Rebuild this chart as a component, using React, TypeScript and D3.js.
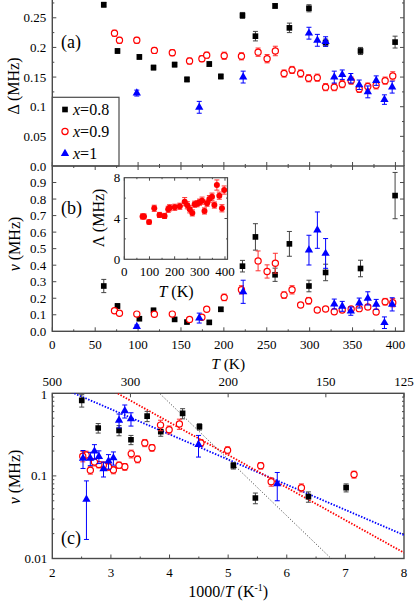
import { useMemo } from 'react';
import * as d3 from 'd3';

const WIDTH = 415;
const HEIGHT = 601;
const FONT = 'Liberation Serif, Times New Roman, DejaVu Serif, serif';

// x = 0.8 (black squares)
const tempsX08 = [60, 76, 101.5, 118, 142.6, 157, 183, 196.5, 221.7, 236.8, 259.7, 276.4, 299.2, 318.6, 359.3, 399.6];
const deltaX08 = [0.272, 0.194, 0.184, 0.166, 0.171, 0.146, 0.172, 0.151, 0.254, 0.219, 0.27, 0.233, 0.266, 0.208, 0.194, 0.209];
const deltaErrX08 = [0.004, 0.004, 0.004, 0.004, 0.004, 0.004, 0.004, 0.004, 0.005, 0.008, 0.004, 0.008, 0.006, 0.006, 0.006, 0.01];
const nuX08 = [0.274, 0.153, 0.076, 0.127, 0.072, 0.056, 0.054, 0.133, 0.394, 0.571, 0.342, 0.529, 0.274, 0.356, 0.38, 0.821];
const nuErrX08 = [0.04, 0.015, 0.01, 0.012, 0.008, 0.008, 0.008, 0.012, 0.035, 0.08, 0.04, 0.075, 0.035, 0.05, 0.05, 0.14];

// x = 0.9 (red open circles)
const tempsX09 = [72.5, 78.3, 98.5, 119, 139.9, 160, 174.4, 180, 200.4, 220.5, 239.9, 250.4, 260, 270.2, 279.5, 289.5, 298.8, 308.9, 318.6, 328.7, 338, 348.4, 357.8, 367.8, 377.5, 388, 396.9];
const deltaX09 = [0.224, 0.212, 0.212, 0.195, 0.191, 0.177, 0.181, 0.187, 0.186, 0.185, 0.192, 0.181, 0.194, 0.156, 0.162, 0.156, 0.148, 0.149, 0.133, 0.133, 0.138, 0.144, 0.13, 0.134, 0.136, 0.144, 0.152];
const deltaErrX09 = [0.005, 0.005, 0.005, 0.005, 0.005, 0.005, 0.005, 0.005, 0.006, 0.006, 0.007, 0.007, 0.008, 0.006, 0.006, 0.006, 0.006, 0.006, 0.006, 0.006, 0.006, 0.006, 0.006, 0.006, 0.006, 0.006, 0.007];
const nuX09 = [0.124, 0.109, 0.104, 0.103, 0.104, 0.072, 0.085, 0.133, 0.205, 0.251, 0.426, 0.362, 0.412, 0.219, 0.251, 0.159, 0.185, 0.129, 0.135, 0.118, 0.129, 0.135, 0.137, 0.147, 0.117, 0.179, 0.173];
const nuErrX09 = [0.01, 0.01, 0.01, 0.01, 0.01, 0.008, 0.01, 0.012, 0.02, 0.025, 0.06, 0.04, 0.06, 0.02, 0.025, 0.015, 0.02, 0.012, 0.012, 0.012, 0.012, 0.012, 0.012, 0.015, 0.012, 0.02, 0.025];
const lambdaX09 = [4.2, 4.2, 3.65, 5.0, 4.35, 4.25, 4.9, 5.05, 5.1, 5.2, 5.65, 5.3, 4.9, 4.55, 5.4, 5.45, 5.6, 5.75, 4.74, 5.5, 5.9, 6.14, 5.32, 7.28, 6.24, 5.0, 6.79];
const lambdaErrX09 = [0.25, 0.25, 0.2, 0.3, 0.25, 0.25, 0.3, 0.3, 0.3, 0.3, 0.4, 0.35, 0.35, 0.3, 0.3, 0.3, 0.3, 0.35, 0.3, 0.3, 0.35, 0.35, 0.3, 0.5, 0.35, 0.35, 0.4];

// x = 1 (blue triangles)
const tempsX1 = [98.5, 171.3, 222.5, 299.2, 309, 318.6, 328.7, 338, 348, 357.8, 367.8, 377.6, 387.2, 396.2];
const deltaX1 = [0.123, 0.099, 0.15, 0.224, 0.212, 0.21, 0.15, 0.154, 0.148, 0.137, 0.125, 0.144, 0.112, 0.133];
const deltaErrX1 = [0.005, 0.01, 0.01, 0.01, 0.01, 0.008, 0.01, 0.008, 0.008, 0.008, 0.01, 0.008, 0.008, 0.01];
const nuX1 = [0.028, 0.08, 0.239, 0.491, 0.612, 0.471, 0.165, 0.151, 0.122, 0.171, 0.199, 0.163, 0.052, 0.163];
const nuErrX1 = [0.01, 0.03, 0.07, 0.09, 0.11, 0.09, 0.03, 0.03, 0.025, 0.03, 0.04, 0.03, 0.035, 0.04];

// Arrhenius fits in panel (c): nu = nu0 * exp(-Ea / T)
const fitColors = ['#0000ff', '#ff0000', '#333333'];
const fitPrefactors = [5.28, 16.9, 413]; // MHz
const fitActivations = [702, 909, 1573]; // K

// top axis of panel (c), in K
const topTempTicks = [500, 300, 200, 150, 125];

type Shape = 'square' | 'circle' | 'triangle';

interface Series {
    label: string;
    shape: Shape;
    color: string;
    errColor: string;
    temps: number[];
    delta: number[];
    deltaErr: number[];
    nu: number[];
    nuErr: number[];
}

const series: Series[] = [
    { label: '0.8', shape: 'square', color: '#000000', errColor: '#444444', temps: tempsX08, delta: deltaX08, deltaErr: deltaErrX08, nu: nuX08, nuErr: nuErrX08 },
    { label: '0.9', shape: 'circle', color: '#ff0000', errColor: '#ff3030', temps: tempsX09, delta: deltaX09, deltaErr: deltaErrX09, nu: nuX09, nuErr: nuErrX09 },
    { label: '1', shape: 'triangle', color: '#0000ff', errColor: '#0000ff', temps: tempsX1, delta: deltaX1, deltaErr: deltaErrX1, nu: nuX1, nuErr: nuErrX1 },
];

const FRAME = '#4a4a4a';

function Marker({ shape, color, x, y }: { shape: Shape; color: string; x: number; y: number }) {
    if (shape === 'circle') {
        return <circle cx={x} cy={y} r={3.1} fill="white" stroke={color} strokeWidth={1.2} />;
    }
    const sym = shape === 'square' ? d3.symbolSquare : d3.symbolTriangle;
    const size = shape === 'square' ? 32 : 30;
    return <path d={d3.symbol(sym, size)() || ''} transform={`translate(${x},${y})`} fill={color} />;
}

interface PointsProps {
    xs: number[];
    ys: number[];
    errs: number[];
    xScale: (v: number) => number;
    yScale: (v: number) => number;
    shape: Shape;
    color: string;
    errColor: string;
    floor?: number;
    filled?: boolean;
}

function ErrorPoints({ xs, ys, errs, xScale, yScale, shape, color, errColor, floor, filled }: PointsProps) {
    return (
        <g>
            {xs.map((xv, i) => {
                const px = xScale(xv);
                const lo = floor !== undefined ? Math.max(ys[i] - errs[i], floor) : ys[i] - errs[i];
                const y0 = yScale(lo);
                const y1 = yScale(ys[i] + errs[i]);
                return (
                    <g key={i} stroke={errColor} strokeWidth={1}>
                        <line x1={px} x2={px} y1={y0} y2={y1} />
                        <line x1={px - 2.5} x2={px + 2.5} y1={y0} y2={y0} />
                        <line x1={px - 2.5} x2={px + 2.5} y1={y1} y2={y1} />
                    </g>
                );
            })}
            {xs.map((xv, i) =>
                filled ? (
                    <circle key={'m' + i} cx={xScale(xv)} cy={yScale(ys[i])} r={3} fill={color} />
                ) : (
                    <Marker key={'m' + i} shape={shape} color={color} x={xScale(xv)} y={yScale(ys[i])} />
                )
            )}
        </g>
    );
}

function XTicks({ values, scale, y, len }: { values: number[]; scale: (v: number) => number; y: number; len: number }) {
    return (
        <g stroke={FRAME} strokeWidth={1}>
            {values.map((v, i) => (
                <line key={i} x1={scale(v)} x2={scale(v)} y1={y} y2={y + len} />
            ))}
        </g>
    );
}

function YTicks({ values, scale, x, len }: { values: number[]; scale: (v: number) => number; x: number; len: number }) {
    return (
        <g stroke={FRAME} strokeWidth={1}>
            {values.map((v, i) => (
                <line key={i} x1={x} x2={x + len} y1={scale(v)} y2={scale(v)} />
            ))}
        </g>
    );
}

export default function App() {
    const scales = useMemo(() => {
        const xT = d3.scaleLinear().domain([0, 410]).range([52.3, 404]);
        const yDelta = d3.scaleLinear().domain([0, 0.28]).range([166, 0]);
        const yNu = d3.scaleLinear().domain([0, 1]).range([331.3, 166]);
        const xIn = d3.scaleLinear().domain([0, 410]).range([124.3, 227.5]);
        const yIn = d3.scaleLinear().domain([0, 8]).range([259.3, 177.7]);
        const xInv = d3.scaleLinear().domain([2, 8]).range([52.3, 404]);
        const yLog = d3.scaleLog().domain([0.01, 1]).range([558.5, 393.3]);
        return { xT, yDelta, yNu, xIn, yIn, xInv, yLog };
    }, []);
    const { xT, yDelta, yNu, xIn, yIn, xInv, yLog } = scales;

    const [l, r] = xT.range();
    const [cl, cr] = xInv.range();
    const cTop = yLog(1);
    const cBot = yLog(0.01);

    const tMajor = d3.range(0, 401, 50);
    const tMinor = d3.range(25, 410, 50);
    const logMinor = [0.02, 0.03, 0.04, 0.05, 0.06, 0.07, 0.08, 0.09, 0.2, 0.3, 0.4, 0.5, 0.6, 0.7, 0.8, 0.9];

    const fits = fitPrefactors.map((nu0, i) => {
        const ends = xInv.domain().map((x) => [x, nu0 * Math.exp((-fitActivations[i] * x) / 1000)] as [number, number]);
        const path = d3
            .line<[number, number]>()
            .x((d) => xInv(d[0]))
            .y((d) => yLog(d[1]))(ends);
        return { path, color: fitColors[i] };
    });

    const tickText = { fontFamily: FONT, fontSize: 13, fill: '#000' } as const;
    const titleText = { fontFamily: FONT, fontSize: 16, fill: '#000' } as const;

    return (
        <svg
            width={WIDTH}
            height={HEIGHT}
            viewBox={`0 0 ${WIDTH} ${HEIGHT}`}
            style={{ position: 'absolute', left: 0, top: 0, background: 'white' }}
        >
            <defs>
                <clipPath id="clip-c">
                    <rect x={cl} y={cTop} width={cr - cl} height={cBot - cTop} />
                </clipPath>
            </defs>

            {/* ---------- panel (a) ---------- */}
            <g>
                <line x1={l} x2={l} y1={0} y2={166} stroke={FRAME} strokeWidth={1.4} />
                <line x1={r} x2={r} y1={0} y2={166} stroke={FRAME} strokeWidth={1.4} />
                <YTicks values={d3.range(0.05, 0.28, 0.05)} scale={yDelta} x={l} len={4} />
                <YTicks values={d3.range(0.025, 0.28, 0.05)} scale={yDelta} x={l} len={2} />
                <YTicks values={d3.range(0.05, 0.28, 0.05)} scale={yDelta} x={r} len={-4} />
                <YTicks values={d3.range(0.025, 0.28, 0.05)} scale={yDelta} x={r} len={-2} />
                <XTicks values={tMajor} scale={xT} y={166} len={-4} />
                <XTicks values={tMinor} scale={xT} y={166} len={-2} />
                {d3.range(0, 0.26, 0.05).map((v, i) => (
                    <text key={i} x={l - 6} y={yDelta(v) + 4.5} textAnchor="end" {...tickText}>
                        {i === 0 ? '0.0' : d3.format('.2~f')(v)}
                    </text>
                ))}
                <text transform={`translate(19, 86) rotate(-90)`} textAnchor="middle" {...titleText}>
                    Δ (MHz)
                </text>
                <text x={61} y={48} {...titleText} fontSize={18}>
                    (a)
                </text>
                {series.map((s) => (
                    <ErrorPoints
                        key={s.label}
                        xs={s.temps}
                        ys={s.delta}
                        errs={s.deltaErr}
                        xScale={xT}
                        yScale={yDelta}
                        shape={s.shape}
                        color={s.color}
                        errColor={s.errColor}
                    />
                ))}
                {/* legend */}
                <rect x={l} y={97.3} width={66.7} height={166 - 97.3} fill="white" stroke={FRAME} strokeWidth={1.2} />
                {series.map((s, i) => (
                    <g key={s.label}>
                        <Marker shape={s.shape} color={s.color} x={65} y={109.5 + i * 22} />
                        <text x={73} y={115 + i * 22} {...titleText}>
                            <tspan fontStyle="italic">x</tspan>={s.label}
                        </text>
                    </g>
                ))}
            </g>

            {/* ---------- panel (b) ---------- */}
            <g>
                <rect x={l} y={166} width={r - l} height={331.3 - 166} fill="none" stroke={FRAME} strokeWidth={1.4} />
                <YTicks values={d3.range(0.1, 1, 0.1)} scale={yNu} x={l} len={4} />
                <YTicks values={d3.range(0.1, 1, 0.1)} scale={yNu} x={r} len={-4} />
                <XTicks values={tMajor} scale={xT} y={331.3} len={-4} />
                <XTicks values={tMinor} scale={xT} y={331.3} len={-2} />
                <XTicks values={tMajor} scale={xT} y={166} len={4} />
                <XTicks values={tMinor} scale={xT} y={166} len={2} />
                {d3.range(0, 0.95, 0.1).map((v, i) => (
                    <text key={i} x={l - 6} y={yNu(v) + 4.5} textAnchor="end" {...tickText}>
                        {d3.format('.1f')(v)}
                    </text>
                ))}
                {tMajor.map((v) => (
                    <text key={v} x={xT(v)} y={349} textAnchor="middle" {...tickText}>
                        {v}
                    </text>
                ))}
                <text x={xT(205)} y={369} textAnchor="middle" {...titleText} fontSize={15.5}>
                    <tspan fontStyle="italic">T</tspan> (K)
                </text>
                <text transform={`translate(20, 244) rotate(-90)`} textAnchor="middle" {...titleText}>
                    <tspan fontStyle="italic">ν</tspan> (MHz)
                </text>
                <text x={61} y={214} {...titleText} fontSize={18}>
                    (b)
                </text>
                {series.map((s) => (
                    <ErrorPoints
                        key={s.label}
                        xs={s.temps}
                        ys={s.nu}
                        errs={s.nuErr}
                        xScale={xT}
                        yScale={yNu}
                        shape={s.shape}
                        color={s.color}
                        errColor={s.errColor}
                    />
                ))}

                {/* inset */}
                <rect
                    x={xIn(0)}
                    y={yIn(8)}
                    width={xIn(410) - xIn(0)}
                    height={yIn(0) - yIn(8)}
                    fill="white"
                    stroke={FRAME}
                    strokeWidth={1.2}
                />
                <XTicks values={d3.range(0, 401, 100)} scale={xIn} y={yIn(0)} len={-3} />
                <XTicks values={d3.range(50, 401, 100)} scale={xIn} y={yIn(0)} len={-1.5} />
                <XTicks values={d3.range(0, 401, 100)} scale={xIn} y={yIn(8)} len={3} />
                <XTicks values={d3.range(50, 401, 100)} scale={xIn} y={yIn(8)} len={1.5} />
                <YTicks values={[4]} scale={yIn} x={xIn(0)} len={3} />
                <YTicks values={[2, 6]} scale={yIn} x={xIn(0)} len={1.5} />
                <YTicks values={[4]} scale={yIn} x={xIn(410)} len={-3} />
                <YTicks values={[2, 6]} scale={yIn} x={xIn(410)} len={-1.5} />
                {d3.range(0, 401, 100).map((v) => (
                    <text key={v} x={xIn(v)} y={276} textAnchor="middle" {...tickText}>
                        {v}
                    </text>
                ))}
                {[0, 4, 8].map((v) => (
                    <text key={v} x={xIn(0) - 4} y={yIn(v) + 4.5} textAnchor="end" {...tickText}>
                        {v}
                    </text>
                ))}
                <text x={176} y={297} textAnchor="middle" {...titleText}>
                    <tspan fontStyle="italic">T</tspan> (K)
                </text>
                <text transform={`translate(104, 218) rotate(-90)`} textAnchor="middle" {...titleText}>
                    Λ (MHz)
                </text>
                <ErrorPoints
                    xs={tempsX09}
                    ys={lambdaX09}
                    errs={lambdaErrX09}
                    xScale={xIn}
                    yScale={yIn}
                    shape="circle"
                    color="#ff0000"
                    errColor="#ff3030"
                    filled
                />
            </g>

            {/* ---------- panel (c) ---------- */}
            <g>
                <rect x={cl} y={cTop} width={cr - cl} height={cBot - cTop} fill="none" stroke={FRAME} strokeWidth={1.4} />
                <XTicks values={d3.range(3, 8, 1)} scale={xInv} y={cBot} len={-4} />
                <XTicks values={d3.range(2.5, 8, 1)} scale={xInv} y={cBot} len={-2} />
                <XTicks values={topTempTicks.map((t) => 1000 / t)} scale={xInv} y={cTop} len={4} />
                <YTicks values={[0.1]} scale={yLog} x={cl} len={4} />
                <YTicks values={logMinor} scale={yLog} x={cl} len={2} />
                <YTicks values={[0.1]} scale={yLog} x={cr} len={-4} />
                <YTicks values={logMinor} scale={yLog} x={cr} len={-2} />
                {d3.range(2, 9, 1).map((v) => (
                    <text key={v} x={xInv(v)} y={577} textAnchor="middle" {...tickText}>
                        {v}
                    </text>
                ))}
                {topTempTicks.map((t) => (
                    <text key={t} x={xInv(1000 / t)} y={386} textAnchor="middle" {...tickText}>
                        {t}
                    </text>
                ))}
                {[1, 0.1, 0.01].map((v, i) => (
                    <text key={v} x={cl - 5} y={yLog(v) + (i === 0 ? 6 : 4.5)} textAnchor="end" {...tickText}>
                        {v}
                    </text>
                ))}
                <text x={xInv(5)} y={597} textAnchor="middle" {...titleText}>
                    1000/<tspan fontStyle="italic">T</tspan> (K
                    <tspan fontSize={10} dy={-6}>
                        -1
                    </tspan>
                    <tspan dy={6}>)</tspan>
                </text>
                <text transform={`translate(20, 477) rotate(-90)`} textAnchor="middle" {...titleText}>
                    <tspan fontStyle="italic">ν</tspan> (MHz)
                </text>
                <text x={61} y={544} {...titleText} fontSize={18}>
                    (c)
                </text>
                <g clipPath="url(#clip-c)">
                    {fits.map((f, i) => (
                        <path
                            key={i}
                            d={f.path || ''}
                            fill="none"
                            stroke={f.color}
                            strokeWidth={i === 2 ? 1 : 1.8}
                            strokeDasharray={i === 2 ? '1 2' : '1.5 1.5'}
                        />
                    ))}
                    {series.map((s) => {
                        const keep = s.temps.map((_t, i) => i).filter((i) => 1000 / s.temps[i] <= 8);
                        return (
                            <ErrorPoints
                                key={s.label}
                                xs={keep.map((i) => 1000 / s.temps[i])}
                                ys={keep.map((i) => s.nu[i])}
                                errs={keep.map((i) => s.nuErr[i])}
                                xScale={xInv}
                                yScale={yLog}
                                shape={s.shape}
                                color={s.color}
                                errColor={s.errColor}
                                floor={0.001}
                            />
                        );
                    })}
                </g>
            </g>
        </svg>
    );
}
